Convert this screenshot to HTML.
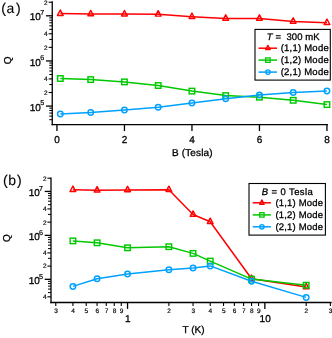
<!DOCTYPE html>
<html><head><meta charset="utf-8"><title>Q factor vs B and T</title>
<style>
html,body{margin:0;padding:0;background:#fff;}
body{width:332px;height:338px;overflow:hidden;}
svg{display:block;font-family:"Liberation Sans", sans-serif;fill:#000;}
</style></head>
<body>
<svg width="332" height="338" viewBox="0 0 332 338">
<rect width="332" height="338" fill="#fff"/>
<line x1="52.25" y1="1.15" x2="52.25" y2="125.25" stroke="#000" stroke-width="1.3" />
<line x1="49.25" y1="119.69" x2="52.25" y2="119.69" stroke="#000" stroke-width="1.0" />
<line x1="49.25" y1="116.12" x2="52.25" y2="116.12" stroke="#000" stroke-width="1.0" />
<line x1="49.25" y1="113.09" x2="52.25" y2="113.09" stroke="#000" stroke-width="1.0" />
<line x1="49.25" y1="110.48" x2="52.25" y2="110.48" stroke="#000" stroke-width="1.0" />
<line x1="49.25" y1="108.17" x2="52.25" y2="108.17" stroke="#000" stroke-width="1.0" />
<line x1="45.95" y1="106.10" x2="52.25" y2="106.10" stroke="#000" stroke-width="1.3" />
<line x1="48.65" y1="92.51" x2="52.25" y2="92.51" stroke="#000" stroke-width="1.1" />
<line x1="49.25" y1="84.56" x2="52.25" y2="84.56" stroke="#000" stroke-width="1.0" />
<line x1="48.65" y1="78.92" x2="52.25" y2="78.92" stroke="#000" stroke-width="1.1" />
<line x1="49.25" y1="74.54" x2="52.25" y2="74.54" stroke="#000" stroke-width="1.0" />
<line x1="49.25" y1="70.97" x2="52.25" y2="70.97" stroke="#000" stroke-width="1.0" />
<line x1="49.25" y1="67.94" x2="52.25" y2="67.94" stroke="#000" stroke-width="1.0" />
<line x1="49.25" y1="65.33" x2="52.25" y2="65.33" stroke="#000" stroke-width="1.0" />
<line x1="49.25" y1="63.02" x2="52.25" y2="63.02" stroke="#000" stroke-width="1.0" />
<line x1="45.95" y1="60.95" x2="52.25" y2="60.95" stroke="#000" stroke-width="1.3" />
<line x1="48.65" y1="47.36" x2="52.25" y2="47.36" stroke="#000" stroke-width="1.1" />
<line x1="49.25" y1="39.41" x2="52.25" y2="39.41" stroke="#000" stroke-width="1.0" />
<line x1="48.65" y1="33.77" x2="52.25" y2="33.77" stroke="#000" stroke-width="1.1" />
<line x1="49.25" y1="29.39" x2="52.25" y2="29.39" stroke="#000" stroke-width="1.0" />
<line x1="49.25" y1="25.82" x2="52.25" y2="25.82" stroke="#000" stroke-width="1.0" />
<line x1="49.25" y1="22.79" x2="52.25" y2="22.79" stroke="#000" stroke-width="1.0" />
<line x1="49.25" y1="20.18" x2="52.25" y2="20.18" stroke="#000" stroke-width="1.0" />
<line x1="49.25" y1="17.87" x2="52.25" y2="17.87" stroke="#000" stroke-width="1.0" />
<line x1="45.95" y1="15.80" x2="52.25" y2="15.80" stroke="#000" stroke-width="1.3" />
<line x1="48.65" y1="2.21" x2="52.25" y2="2.21" stroke="#000" stroke-width="1.1" />
<line x1="51.60" y1="124.60" x2="327.95" y2="124.60" stroke="#000" stroke-width="1.3" />
<line x1="56.95" y1="124.60" x2="56.95" y2="131.00" stroke="#000" stroke-width="1.3" />
<line x1="124.45" y1="124.60" x2="124.45" y2="131.00" stroke="#000" stroke-width="1.3" />
<line x1="191.95" y1="124.60" x2="191.95" y2="131.00" stroke="#000" stroke-width="1.3" />
<line x1="259.45" y1="124.60" x2="259.45" y2="131.00" stroke="#000" stroke-width="1.3" />
<line x1="326.95" y1="124.60" x2="326.95" y2="131.00" stroke="#000" stroke-width="1.3" />
<path d="M60.33,13.60 L90.70,14.00 L124.45,14.10 L158.20,14.30 L191.95,16.70 L225.70,18.40 L259.45,18.40 L293.20,21.40 L326.95,22.70" fill="none" stroke="#ff0000" stroke-width="1.5" stroke-linejoin="round"/>
<path d="M57.48,15.40 L60.33,10.00 L63.18,15.40 Z" fill="none" stroke="#ff0000" stroke-width="1.45" stroke-linejoin="round"/>
<path d="M87.85,15.80 L90.70,10.40 L93.55,15.80 Z" fill="none" stroke="#ff0000" stroke-width="1.45" stroke-linejoin="round"/>
<path d="M121.60,15.90 L124.45,10.50 L127.30,15.90 Z" fill="none" stroke="#ff0000" stroke-width="1.45" stroke-linejoin="round"/>
<path d="M155.35,16.10 L158.20,10.70 L161.05,16.10 Z" fill="none" stroke="#ff0000" stroke-width="1.45" stroke-linejoin="round"/>
<path d="M189.10,18.50 L191.95,13.10 L194.80,18.50 Z" fill="none" stroke="#ff0000" stroke-width="1.45" stroke-linejoin="round"/>
<path d="M222.85,20.20 L225.70,14.80 L228.55,20.20 Z" fill="none" stroke="#ff0000" stroke-width="1.45" stroke-linejoin="round"/>
<path d="M256.60,20.20 L259.45,14.80 L262.30,20.20 Z" fill="none" stroke="#ff0000" stroke-width="1.45" stroke-linejoin="round"/>
<path d="M290.35,23.20 L293.20,17.80 L296.05,23.20 Z" fill="none" stroke="#ff0000" stroke-width="1.45" stroke-linejoin="round"/>
<path d="M324.10,24.50 L326.95,19.10 L329.80,24.50 Z" fill="none" stroke="#ff0000" stroke-width="1.45" stroke-linejoin="round"/>
<path d="M60.33,78.50 L90.70,79.60 L124.45,81.90 L158.20,85.50 L191.95,91.10 L225.70,95.60 L259.45,97.20 L293.20,100.30 L326.95,104.60" fill="none" stroke="#00c800" stroke-width="1.5" stroke-linejoin="round"/>
<rect x="57.58" y="75.75" width="5.50" height="5.50" fill="none" stroke="#00c800" stroke-width="1.45"/>
<rect x="87.95" y="76.85" width="5.50" height="5.50" fill="none" stroke="#00c800" stroke-width="1.45"/>
<rect x="121.70" y="79.15" width="5.50" height="5.50" fill="none" stroke="#00c800" stroke-width="1.45"/>
<rect x="155.45" y="82.75" width="5.50" height="5.50" fill="none" stroke="#00c800" stroke-width="1.45"/>
<rect x="189.20" y="88.35" width="5.50" height="5.50" fill="none" stroke="#00c800" stroke-width="1.45"/>
<rect x="222.95" y="92.85" width="5.50" height="5.50" fill="none" stroke="#00c800" stroke-width="1.45"/>
<rect x="256.70" y="94.45" width="5.50" height="5.50" fill="none" stroke="#00c800" stroke-width="1.45"/>
<rect x="290.45" y="97.55" width="5.50" height="5.50" fill="none" stroke="#00c800" stroke-width="1.45"/>
<rect x="324.20" y="101.85" width="5.50" height="5.50" fill="none" stroke="#00c800" stroke-width="1.45"/>
<path d="M60.33,113.90 L90.70,112.40 L124.45,109.90 L158.20,107.30 L191.95,103.00 L225.70,98.80 L259.45,95.00 L293.20,92.40 L326.95,90.90" fill="none" stroke="#00a0ff" stroke-width="1.5" stroke-linejoin="round"/>
<circle cx="60.33" cy="113.90" r="2.75" fill="none" stroke="#00a0ff" stroke-width="1.45"/>
<circle cx="90.70" cy="112.40" r="2.75" fill="none" stroke="#00a0ff" stroke-width="1.45"/>
<circle cx="124.45" cy="109.90" r="2.75" fill="none" stroke="#00a0ff" stroke-width="1.45"/>
<circle cx="158.20" cy="107.30" r="2.75" fill="none" stroke="#00a0ff" stroke-width="1.45"/>
<circle cx="191.95" cy="103.00" r="2.75" fill="none" stroke="#00a0ff" stroke-width="1.45"/>
<circle cx="225.70" cy="98.80" r="2.75" fill="none" stroke="#00a0ff" stroke-width="1.45"/>
<circle cx="259.45" cy="95.00" r="2.75" fill="none" stroke="#00a0ff" stroke-width="1.45"/>
<circle cx="293.20" cy="92.40" r="2.75" fill="none" stroke="#00a0ff" stroke-width="1.45"/>
<circle cx="326.95" cy="90.90" r="2.75" fill="none" stroke="#00a0ff" stroke-width="1.45"/>
<rect x="255.00" y="29.40" width="75.30" height="50.70" fill="#fff" stroke="#000" stroke-width="1.1"/>
<line x1="258.50" y1="48.20" x2="277.00" y2="48.20" stroke="#ff0000" stroke-width="1.5" />
<path d="M265.62,49.64 L267.90,45.32 L270.18,49.64 Z" fill="none" stroke="#ff0000" stroke-width="1.3" stroke-linejoin="round"/>
<line x1="258.50" y1="60.10" x2="277.00" y2="60.10" stroke="#00c800" stroke-width="1.5" />
<rect x="265.70" y="57.90" width="4.40" height="4.40" fill="none" stroke="#00c800" stroke-width="1.3"/>
<line x1="258.50" y1="72.10" x2="277.00" y2="72.10" stroke="#00a0ff" stroke-width="1.5" />
<circle cx="267.90" cy="72.10" r="2.20" fill="none" stroke="#00a0ff" stroke-width="1.3"/>
<line x1="51.00" y1="177.55" x2="51.00" y2="303.15" stroke="#000" stroke-width="1.3" />
<line x1="47.40" y1="296.82" x2="51.00" y2="296.82" stroke="#000" stroke-width="1.1" />
<line x1="48.00" y1="292.56" x2="51.00" y2="292.56" stroke="#000" stroke-width="1.0" />
<line x1="48.00" y1="289.08" x2="51.00" y2="289.08" stroke="#000" stroke-width="1.0" />
<line x1="48.00" y1="286.14" x2="51.00" y2="286.14" stroke="#000" stroke-width="1.0" />
<line x1="48.00" y1="283.59" x2="51.00" y2="283.59" stroke="#000" stroke-width="1.0" />
<line x1="48.00" y1="281.34" x2="51.00" y2="281.34" stroke="#000" stroke-width="1.0" />
<line x1="44.70" y1="279.33" x2="51.00" y2="279.33" stroke="#000" stroke-width="1.3" />
<line x1="47.40" y1="266.10" x2="51.00" y2="266.10" stroke="#000" stroke-width="1.1" />
<line x1="48.00" y1="258.36" x2="51.00" y2="258.36" stroke="#000" stroke-width="1.0" />
<line x1="47.40" y1="252.87" x2="51.00" y2="252.87" stroke="#000" stroke-width="1.1" />
<line x1="48.00" y1="248.61" x2="51.00" y2="248.61" stroke="#000" stroke-width="1.0" />
<line x1="48.00" y1="245.13" x2="51.00" y2="245.13" stroke="#000" stroke-width="1.0" />
<line x1="48.00" y1="242.19" x2="51.00" y2="242.19" stroke="#000" stroke-width="1.0" />
<line x1="48.00" y1="239.64" x2="51.00" y2="239.64" stroke="#000" stroke-width="1.0" />
<line x1="48.00" y1="237.39" x2="51.00" y2="237.39" stroke="#000" stroke-width="1.0" />
<line x1="44.70" y1="235.38" x2="51.00" y2="235.38" stroke="#000" stroke-width="1.3" />
<line x1="47.40" y1="222.15" x2="51.00" y2="222.15" stroke="#000" stroke-width="1.1" />
<line x1="48.00" y1="214.41" x2="51.00" y2="214.41" stroke="#000" stroke-width="1.0" />
<line x1="47.40" y1="208.92" x2="51.00" y2="208.92" stroke="#000" stroke-width="1.1" />
<line x1="48.00" y1="204.66" x2="51.00" y2="204.66" stroke="#000" stroke-width="1.0" />
<line x1="48.00" y1="201.18" x2="51.00" y2="201.18" stroke="#000" stroke-width="1.0" />
<line x1="48.00" y1="198.24" x2="51.00" y2="198.24" stroke="#000" stroke-width="1.0" />
<line x1="48.00" y1="195.69" x2="51.00" y2="195.69" stroke="#000" stroke-width="1.0" />
<line x1="48.00" y1="193.44" x2="51.00" y2="193.44" stroke="#000" stroke-width="1.0" />
<line x1="44.70" y1="191.43" x2="51.00" y2="191.43" stroke="#000" stroke-width="1.3" />
<line x1="47.40" y1="178.20" x2="51.00" y2="178.20" stroke="#000" stroke-width="1.1" />
<line x1="50.35" y1="302.50" x2="331.65" y2="302.50" stroke="#000" stroke-width="1.3" />
<line x1="55.76" y1="302.50" x2="55.76" y2="306.00" stroke="#000" stroke-width="1.1" />
<line x1="72.91" y1="302.50" x2="72.91" y2="306.00" stroke="#000" stroke-width="1.1" />
<line x1="86.22" y1="302.50" x2="86.22" y2="306.00" stroke="#000" stroke-width="1.1" />
<line x1="97.09" y1="302.50" x2="97.09" y2="306.00" stroke="#000" stroke-width="1.1" />
<line x1="106.28" y1="302.50" x2="106.28" y2="306.00" stroke="#000" stroke-width="1.1" />
<line x1="114.24" y1="302.50" x2="114.24" y2="306.00" stroke="#000" stroke-width="1.1" />
<line x1="121.27" y1="302.50" x2="121.27" y2="306.00" stroke="#000" stroke-width="1.1" />
<line x1="127.55" y1="302.50" x2="127.55" y2="308.90" stroke="#000" stroke-width="1.3" />
<line x1="168.88" y1="302.50" x2="168.88" y2="306.00" stroke="#000" stroke-width="1.1" />
<line x1="193.06" y1="302.50" x2="193.06" y2="306.00" stroke="#000" stroke-width="1.1" />
<line x1="210.21" y1="302.50" x2="210.21" y2="306.00" stroke="#000" stroke-width="1.1" />
<line x1="223.52" y1="302.50" x2="223.52" y2="306.00" stroke="#000" stroke-width="1.1" />
<line x1="234.39" y1="302.50" x2="234.39" y2="306.00" stroke="#000" stroke-width="1.1" />
<line x1="243.58" y1="302.50" x2="243.58" y2="306.00" stroke="#000" stroke-width="1.1" />
<line x1="251.54" y1="302.50" x2="251.54" y2="306.00" stroke="#000" stroke-width="1.1" />
<line x1="258.57" y1="302.50" x2="258.57" y2="306.00" stroke="#000" stroke-width="1.1" />
<line x1="264.85" y1="302.50" x2="264.85" y2="308.90" stroke="#000" stroke-width="1.3" />
<line x1="306.18" y1="302.50" x2="306.18" y2="306.00" stroke="#000" stroke-width="1.1" />
<line x1="330.36" y1="302.50" x2="330.36" y2="306.00" stroke="#000" stroke-width="1.1" />
<path d="M72.91,189.70 L97.09,190.20 L127.55,189.90 L168.88,189.80 L193.06,214.50 L210.21,221.80 L251.54,278.70 L306.18,287.00" fill="none" stroke="#ff0000" stroke-width="1.5" stroke-linejoin="round"/>
<path d="M70.06,191.50 L72.91,186.10 L75.76,191.50 Z" fill="none" stroke="#ff0000" stroke-width="1.45" stroke-linejoin="round"/>
<path d="M94.24,192.00 L97.09,186.60 L99.94,192.00 Z" fill="none" stroke="#ff0000" stroke-width="1.45" stroke-linejoin="round"/>
<path d="M124.70,191.70 L127.55,186.30 L130.40,191.70 Z" fill="none" stroke="#ff0000" stroke-width="1.45" stroke-linejoin="round"/>
<path d="M166.03,191.60 L168.88,186.20 L171.73,191.60 Z" fill="none" stroke="#ff0000" stroke-width="1.45" stroke-linejoin="round"/>
<path d="M190.21,216.30 L193.06,210.90 L195.91,216.30 Z" fill="none" stroke="#ff0000" stroke-width="1.45" stroke-linejoin="round"/>
<path d="M207.36,223.60 L210.21,218.20 L213.06,223.60 Z" fill="none" stroke="#ff0000" stroke-width="1.45" stroke-linejoin="round"/>
<path d="M248.69,280.50 L251.54,275.10 L254.39,280.50 Z" fill="none" stroke="#ff0000" stroke-width="1.45" stroke-linejoin="round"/>
<path d="M303.33,288.80 L306.18,283.40 L309.03,288.80 Z" fill="none" stroke="#ff0000" stroke-width="1.45" stroke-linejoin="round"/>
<path d="M72.91,240.90 L97.09,242.80 L127.55,247.80 L168.88,246.70 L193.06,253.40 L210.21,261.10 L251.54,279.10 L306.18,285.20" fill="none" stroke="#00c800" stroke-width="1.5" stroke-linejoin="round"/>
<rect x="70.16" y="238.15" width="5.50" height="5.50" fill="none" stroke="#00c800" stroke-width="1.45"/>
<rect x="94.34" y="240.05" width="5.50" height="5.50" fill="none" stroke="#00c800" stroke-width="1.45"/>
<rect x="124.80" y="245.05" width="5.50" height="5.50" fill="none" stroke="#00c800" stroke-width="1.45"/>
<rect x="166.13" y="243.95" width="5.50" height="5.50" fill="none" stroke="#00c800" stroke-width="1.45"/>
<rect x="190.31" y="250.65" width="5.50" height="5.50" fill="none" stroke="#00c800" stroke-width="1.45"/>
<rect x="207.46" y="258.35" width="5.50" height="5.50" fill="none" stroke="#00c800" stroke-width="1.45"/>
<rect x="248.79" y="276.35" width="5.50" height="5.50" fill="none" stroke="#00c800" stroke-width="1.45"/>
<rect x="303.43" y="282.45" width="5.50" height="5.50" fill="none" stroke="#00c800" stroke-width="1.45"/>
<path d="M72.91,286.40 L97.09,278.70 L127.55,273.90 L168.88,269.70 L193.06,267.90 L210.21,265.90 L251.54,281.30 L306.18,297.40" fill="none" stroke="#00a0ff" stroke-width="1.5" stroke-linejoin="round"/>
<circle cx="72.91" cy="286.40" r="2.75" fill="none" stroke="#00a0ff" stroke-width="1.45"/>
<circle cx="97.09" cy="278.70" r="2.75" fill="none" stroke="#00a0ff" stroke-width="1.45"/>
<circle cx="127.55" cy="273.90" r="2.75" fill="none" stroke="#00a0ff" stroke-width="1.45"/>
<circle cx="168.88" cy="269.70" r="2.75" fill="none" stroke="#00a0ff" stroke-width="1.45"/>
<circle cx="193.06" cy="267.90" r="2.75" fill="none" stroke="#00a0ff" stroke-width="1.45"/>
<circle cx="210.21" cy="265.90" r="2.75" fill="none" stroke="#00a0ff" stroke-width="1.45"/>
<circle cx="251.54" cy="281.30" r="2.75" fill="none" stroke="#00a0ff" stroke-width="1.45"/>
<circle cx="306.18" cy="297.40" r="2.75" fill="none" stroke="#00a0ff" stroke-width="1.45"/>
<rect x="249.00" y="183.50" width="76.40" height="51.60" fill="#fff" stroke="#000" stroke-width="1.1"/>
<line x1="252.70" y1="202.80" x2="270.90" y2="202.80" stroke="#ff0000" stroke-width="1.5" />
<path d="M259.62,204.24 L261.90,199.92 L264.18,204.24 Z" fill="none" stroke="#ff0000" stroke-width="1.3" stroke-linejoin="round"/>
<line x1="252.70" y1="214.90" x2="270.90" y2="214.90" stroke="#00c800" stroke-width="1.5" />
<rect x="259.70" y="212.70" width="4.40" height="4.40" fill="none" stroke="#00c800" stroke-width="1.3"/>
<line x1="252.70" y1="226.80" x2="270.90" y2="226.80" stroke="#00a0ff" stroke-width="1.5" />
<circle cx="261.90" cy="226.80" r="2.20" fill="none" stroke="#00a0ff" stroke-width="1.3"/>
<defs><filter id="g" filterUnits="userSpaceOnUse" x="0" y="0" width="332" height="338"><feOffset dx="0" dy="0"/></filter></defs>
<g filter="url(#g)" text-rendering="geometricPrecision" stroke="#000" stroke-width="0.3" stroke-linejoin="round">
<text x="40.90" y="110.70" font-size="10" text-anchor="end" >10</text>
<text x="40.35" y="105.30" font-size="7.2" text-anchor="start"  stroke-width="0.18">5</text>
<text x="47.50" y="94.86" font-size="6.5" text-anchor="end"  stroke-width="0.18">2</text>
<text x="47.50" y="81.27" font-size="6.5" text-anchor="end"  stroke-width="0.18">4</text>
<text x="40.90" y="65.55" font-size="10" text-anchor="end" >10</text>
<text x="40.35" y="60.15" font-size="7.2" text-anchor="start"  stroke-width="0.18">6</text>
<text x="47.50" y="49.71" font-size="6.5" text-anchor="end"  stroke-width="0.18">2</text>
<text x="47.50" y="36.12" font-size="6.5" text-anchor="end"  stroke-width="0.18">4</text>
<text x="40.90" y="20.40" font-size="10" text-anchor="end" >10</text>
<text x="40.35" y="15.00" font-size="7.2" text-anchor="start"  stroke-width="0.18">7</text>
<text x="47.50" y="4.56" font-size="6.5" text-anchor="end"  stroke-width="0.18">2</text>
<text x="56.95" y="142.80" font-size="10" text-anchor="middle" >0</text>
<text x="124.45" y="142.80" font-size="10" text-anchor="middle" >2</text>
<text x="191.95" y="142.80" font-size="10" text-anchor="middle" >4</text>
<text x="259.45" y="142.80" font-size="10" text-anchor="middle" >6</text>
<text x="326.95" y="142.80" font-size="10" text-anchor="middle" >8</text>
<text x="192.30" y="155.70" font-size="10" text-anchor="middle" textLength="40.4">B (Tesla)</text>
<text x="1.25 6.4 16.0" y="12.8" font-size="14" stroke-width="0.1">(a)</text>
<text transform="translate(11.2,60.4) rotate(-90)" font-size="10" text-anchor="middle">Q</text>
<text x="266.8" y="40.2" font-size="9.5" xml:space="preserve" textLength="52.8"><tspan font-style="italic">T</tspan> =  300 mK</text>
<text x="280.70" y="51.20" font-size="9.5" text-anchor="start" textLength="48.0">(1,1) Mode</text>
<text x="280.70" y="63.10" font-size="9.5" text-anchor="start" textLength="48.0">(1,2) Mode</text>
<text x="280.70" y="75.00" font-size="9.5" text-anchor="start" textLength="48.0">(2,1) Mode</text>
<text x="46.50" y="299.17" font-size="6.5" text-anchor="end"  stroke-width="0.18">4</text>
<text x="39.75" y="283.93" font-size="10" text-anchor="end" >10</text>
<text x="39.05" y="278.78" font-size="7.2" text-anchor="start"  stroke-width="0.18">5</text>
<text x="46.50" y="268.45" font-size="6.5" text-anchor="end"  stroke-width="0.18">2</text>
<text x="46.50" y="255.22" font-size="6.5" text-anchor="end"  stroke-width="0.18">4</text>
<text x="39.75" y="239.98" font-size="10" text-anchor="end" >10</text>
<text x="39.05" y="234.83" font-size="7.2" text-anchor="start"  stroke-width="0.18">6</text>
<text x="46.50" y="224.50" font-size="6.5" text-anchor="end"  stroke-width="0.18">2</text>
<text x="46.50" y="211.27" font-size="6.5" text-anchor="end"  stroke-width="0.18">4</text>
<text x="39.75" y="196.03" font-size="10" text-anchor="end" >10</text>
<text x="39.05" y="190.88" font-size="7.2" text-anchor="start"  stroke-width="0.18">7</text>
<text x="46.50" y="180.55" font-size="6.5" text-anchor="end"  stroke-width="0.18">2</text>
<text x="55.96" y="313.20" font-size="6.5" text-anchor="middle"  stroke-width="0.18">3</text>
<text x="73.11" y="313.20" font-size="6.5" text-anchor="middle"  stroke-width="0.18">4</text>
<text x="86.42" y="313.20" font-size="6.5" text-anchor="middle"  stroke-width="0.18">5</text>
<text x="97.29" y="313.20" font-size="6.5" text-anchor="middle"  stroke-width="0.18">6</text>
<text x="106.48" y="313.20" font-size="6.5" text-anchor="middle"  stroke-width="0.18">7</text>
<text x="114.44" y="313.20" font-size="6.5" text-anchor="middle"  stroke-width="0.18">8</text>
<text x="121.47" y="313.20" font-size="6.5" text-anchor="middle"  stroke-width="0.18">9</text>
<text x="127.85" y="322.00" font-size="10" text-anchor="middle" >1</text>
<text x="169.08" y="313.20" font-size="6.5" text-anchor="middle"  stroke-width="0.18">2</text>
<text x="193.26" y="313.20" font-size="6.5" text-anchor="middle"  stroke-width="0.18">3</text>
<text x="210.41" y="313.20" font-size="6.5" text-anchor="middle"  stroke-width="0.18">4</text>
<text x="223.72" y="313.20" font-size="6.5" text-anchor="middle"  stroke-width="0.18">5</text>
<text x="234.59" y="313.20" font-size="6.5" text-anchor="middle"  stroke-width="0.18">6</text>
<text x="243.78" y="313.20" font-size="6.5" text-anchor="middle"  stroke-width="0.18">7</text>
<text x="251.74" y="313.20" font-size="6.5" text-anchor="middle"  stroke-width="0.18">8</text>
<text x="258.77" y="313.20" font-size="6.5" text-anchor="middle"  stroke-width="0.18">9</text>
<text x="265.15" y="322.00" font-size="10" text-anchor="middle" >10</text>
<text x="306.38" y="313.20" font-size="6.5" text-anchor="middle"  stroke-width="0.18">2</text>
<text x="330.56" y="313.20" font-size="6.5" text-anchor="middle"  stroke-width="0.18">3</text>
<text x="193.50" y="333.30" font-size="10" text-anchor="middle" >T (K)</text>
<text x="2.95 8.2 17.1" y="184.9" font-size="14" stroke-width="0.1">(b)</text>
<text transform="translate(10.2,238.1) rotate(-90)" font-size="10" text-anchor="middle">Q</text>
<text x="261.8" y="194.8" font-size="9.5" textLength="51.0"><tspan font-style="italic">B</tspan> = 0 Tesla</text>
<text x="275.40" y="206.00" font-size="9.5" text-anchor="start" textLength="47.6">(1,1) Mode</text>
<text x="275.40" y="218.10" font-size="9.5" text-anchor="start" textLength="47.6">(1,2) Mode</text>
<text x="275.40" y="230.00" font-size="9.5" text-anchor="start" textLength="47.6">(2,1) Mode</text>
</g>
</svg>
</body></html>
